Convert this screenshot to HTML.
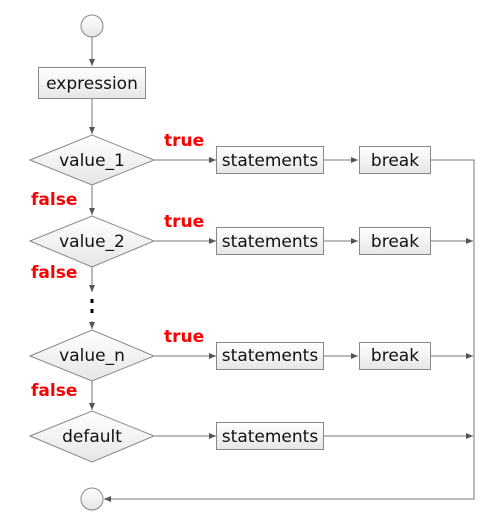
<!DOCTYPE html>
<html><head><meta charset="utf-8"><style>
html,body{margin:0;padding:0;background:#fff;}
svg{display:block}
text{font-family:"DejaVu Sans","Liberation Sans",sans-serif;}
</style></head><body>
<svg width="493" height="531" viewBox="0 0 493 531" xmlns="http://www.w3.org/2000/svg">
<defs>
<linearGradient id="g" x1="0" y1="0" x2="0" y2="1"><stop offset="0" stop-color="#ffffff"/><stop offset="1" stop-color="#e6e6e6"/></linearGradient>
<marker id="a" markerWidth="8" markerHeight="8" refX="7" refY="4" orient="auto" markerUnits="userSpaceOnUse"><path d="M0,1 L7,4 L0,7 Z" fill="#555"/></marker>
</defs>
<g stroke="#777" stroke-width="1" fill="none">
<line x1="92" y1="37" x2="92" y2="66" marker-end="url(#a)"/>
<line x1="92" y1="98" x2="92" y2="134" marker-end="url(#a)"/>
<line x1="92" y1="185" x2="92" y2="215" marker-end="url(#a)"/>
<line x1="92" y1="267" x2="92" y2="292" marker-end="url(#a)"/>
<line x1="92" y1="321" x2="92" y2="329" marker-end="url(#a)"/>
<line x1="92" y1="381" x2="92" y2="410" marker-end="url(#a)"/>
<line x1="154" y1="160" x2="216" y2="160" marker-end="url(#a)"/>
<line x1="154" y1="241" x2="216" y2="241" marker-end="url(#a)"/>
<line x1="154" y1="356" x2="216" y2="356" marker-end="url(#a)"/>
<line x1="154" y1="436" x2="216" y2="436" marker-end="url(#a)"/>
<line x1="324" y1="160" x2="358" y2="160" marker-end="url(#a)"/>
<line x1="324" y1="241" x2="358" y2="241" marker-end="url(#a)"/>
<line x1="324" y1="356" x2="358" y2="356" marker-end="url(#a)"/>
<polyline points="430,160 474,160 474,499 104,499" marker-end="url(#a)"/>
<line x1="430" y1="241" x2="473" y2="241" marker-end="url(#a)"/>
<line x1="430" y1="356" x2="473" y2="356" marker-end="url(#a)"/>
<line x1="324" y1="436" x2="473" y2="436" marker-end="url(#a)"/>
</g>
<g fill="#000"><rect x="90.5" y="299" width="3" height="4"/><rect x="90.5" y="309" width="3" height="4"/></g>
<g stroke="#888" stroke-width="1" fill="url(#g)">
<circle cx="92" cy="26" r="11"/>
<circle cx="92" cy="499" r="11"/>
<rect x="38.5" y="67.5" width="107" height="31"/>
<polygon points="30,160 92,135 154,160 92,185"/>
<polygon points="30,241 92,216 154,241 92,267"/>
<polygon points="30,356 92,330 154,356 92,381"/>
<polygon points="30,436 92,411 154,436 92,462"/>
<rect x="216.5" y="146.5" width="107" height="27"/>
<rect x="216.5" y="227.5" width="107" height="27"/>
<rect x="216.5" y="342.5" width="107" height="27"/>
<rect x="216.5" y="422.5" width="107" height="27"/>
<rect x="359.5" y="146.5" width="71" height="27"/>
<rect x="359.5" y="227.5" width="71" height="27"/>
<rect x="359.5" y="342.5" width="71" height="27"/>
</g>
<g font-size="17" fill="#111" text-anchor="middle">
<text x="92" y="89">expression</text>
<text x="92" y="166">value_1</text>
<text x="92" y="247">value_2</text>
<text x="92" y="361">value_n</text>
<text x="92" y="442">default</text>
<text x="270" y="166">statements</text>
<text x="270" y="247">statements</text>
<text x="270" y="361">statements</text>
<text x="270" y="442">statements</text>
<text x="395" y="166">break</text>
<text x="395" y="247">break</text>
<text x="395" y="361">break</text>
</g>
<g font-size="17" font-weight="bold" fill="#f00">
<text x="164" y="146">true</text>
<text x="164" y="227">true</text>
<text x="164" y="342">true</text>
<text x="31" y="205">false</text>
<text x="31" y="278">false</text>
<text x="31" y="396">false</text>
</g>
</svg>
</body></html>
